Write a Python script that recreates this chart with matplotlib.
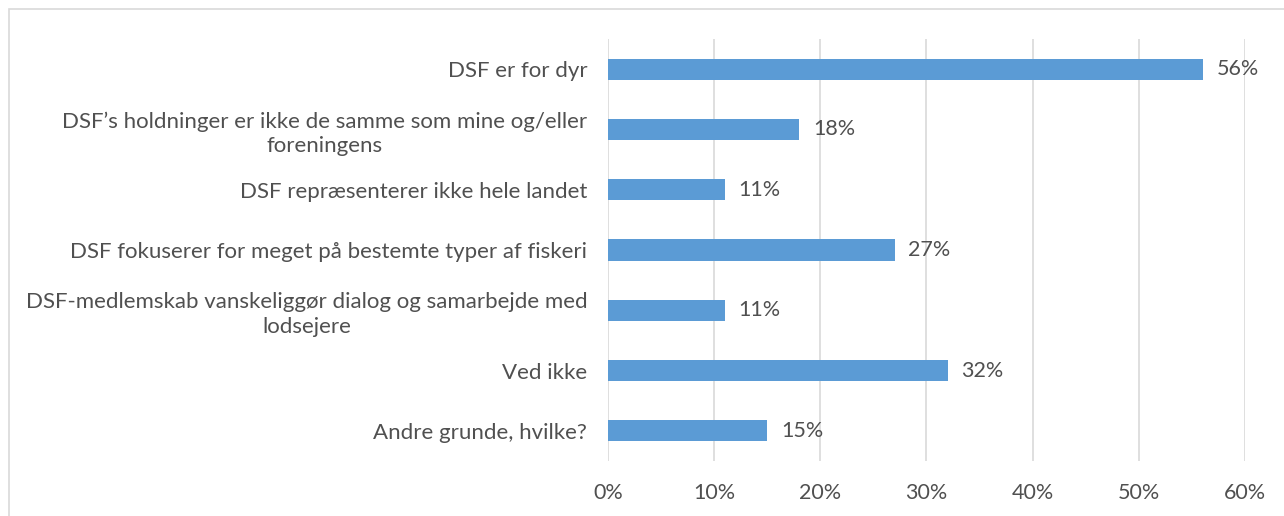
import matplotlib.pyplot as plt
from matplotlib.patches import Rectangle
from matplotlib.ticker import PercentFormatter

categories = [
    "DSF er for dyr",
    "DSF\u2019s holdninger er ikke de samme som mine og/eller\nforeningens",
    "DSF repræsenterer ikke hele landet",
    "DSF fokuserer for meget på bestemte typer af fiskeri",
    "DSF-medlemskab vanskeliggør dialog og samarbejde med\nlodsejere",
    "Ved ikke",
    "Andre grunde, hvilke?",
]
values = [0.56, 0.18, 0.11, 0.27, 0.11, 0.32, 0.15]
xticks = [0, 0.1, 0.2, 0.3, 0.4, 0.5, 0.6]

bar_color = "#5B9BD5"
text_color = "#505050"
grid_color = "#D9D9D9"

plt.rcParams["font.family"] = ["Lato", "DejaVu Sans"]

fig = plt.figure(figsize=(12.84, 5.16), dpi=100)
ax = fig.add_axes([0.4735, 0.1066, 0.4961, 0.8178])

y = list(range(len(categories)))
ax.barh(y, values, height=0.35, color=bar_color, zorder=3)
ax.set_ylim(len(categories) - 0.5, -0.5)
ax.set_xlim(0, 0.6)

for yi, v in zip(y, values):
    ax.text(v + 0.013, yi, f"{v:.0%}", va="center", ha="left",
            fontsize=15.5, color=text_color)

ax.set_yticks(y)
ax.set_yticklabels(categories, fontsize=16, color=text_color,
                   multialignment="center", linespacing=1.3)
ax.set_xticks(xticks)
ax.xaxis.set_major_formatter(PercentFormatter(1.0, decimals=0))
ax.tick_params(axis="x", length=0, pad=16, labelsize=15.5, labelcolor=text_color)
ax.tick_params(axis="y", length=0, pad=15)

ax.grid(axis="x", color=grid_color, linewidth=1.2, zorder=0)
for s in ax.spines.values():
    s.set_visible(False)

# outer chart border (right and bottom edges lie outside the image)
fig.patches.append(Rectangle((9 / 1284, -0.1), 1.2, 1 - 9 / 516 + 0.1,
                             transform=fig.transFigure, fill=False,
                             edgecolor=grid_color, linewidth=1.2))

fig.savefig("out.png", dpi=100)
